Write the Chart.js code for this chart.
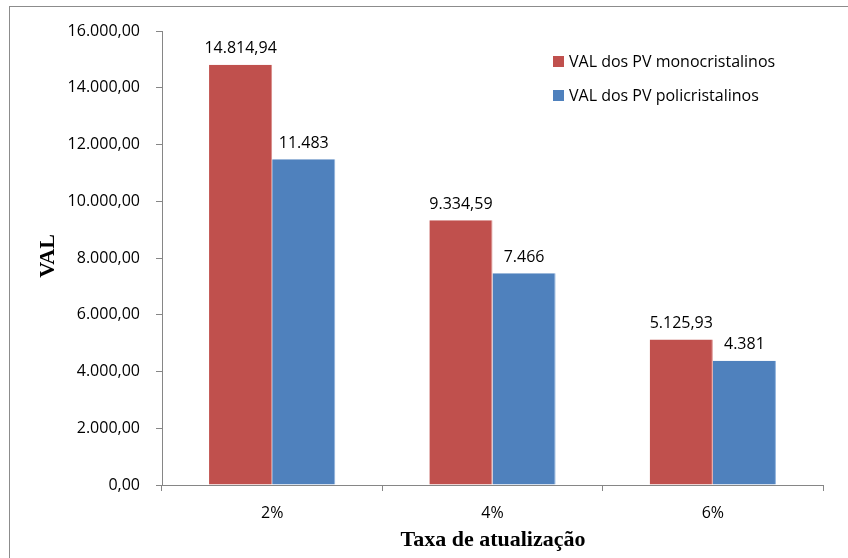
<!DOCTYPE html>
<html>
<head>
<meta charset="utf-8">
<script src="https://cdn.jsdelivr.net/npm/chart.js@4"></script>
<style>
  html, body { margin: 0; padding: 0; background: #fff; }
  #wrap { position: relative; width: 848px; height: 558px; }
  #frame { position: absolute; left: 9px; top: 6px; width: 860px; height: 580px; border: 1px solid #8c8c8c; box-sizing: border-box; }
  canvas { position: absolute; left: 0; top: 0; }
</style>
</head>
<body>
<div id="wrap">
  <div id="frame"></div>
  <canvas id="chart" width="848" height="558"></canvas>
</div>
<script>
// data
const categories = ['2%', '4%', '6%'];
const monoValues = [14814.94, 9334.59, 5125.93];
const polyValues = [11483, 7466, 4381];
const seriesNames = ['VAL dos PV monocristalinos', 'VAL dos PV policristalinos'];
const seriesDecimals = [2, 0];

const labelFont = '16px "Open Sans"';
const axisColor = '#868686';

// number format like 14.814,94
function fmt(v, dec) {
  const parts = v.toFixed(dec).split('.');
  const intPart = parts[0].replace(/\B(?=(\d{3})+(?!\d))/g, '.');
  return parts.length > 1 ? intPart + ',' + parts[1] : intPart;
}

// labels over the bars, legend and axis titles
const extras = {
  id: 'extras',
  afterDatasetsDraw(chart) {
    const ctx = chart.ctx;
    ctx.save();
    ctx.font = labelFont;
    ctx.fillStyle = '#000';
    ctx.textAlign = 'center';
    ctx.textBaseline = 'bottom';
    chart.data.datasets.forEach((ds, i) => {
      chart.getDatasetMeta(i).data.forEach((bar, j) => {
        ctx.fillText(fmt(ds.data[j], seriesDecimals[i]), bar.x, bar.y - 8);
      });
    });

    // legend
    ctx.textAlign = 'left';
    ctx.textBaseline = 'middle';
    chart.data.datasets.forEach((ds, i) => {
      const y = 62 + i * 34;
      ctx.fillStyle = ds.backgroundColor;
      ctx.fillRect(553, y - 6, 11, 11);
      ctx.fillStyle = '#000';
      ctx.fillText(ds.label, 569, y);
    });

    // axis titles
    ctx.font = 'bold 22px "Liberation Serif"';
    ctx.textAlign = 'center';
    ctx.fillText('Taxa de atualização', 493, 540);
    ctx.translate(48, 256);
    ctx.rotate(-Math.PI / 2);
    ctx.fillText('VAL', 0, 0);
    ctx.restore();
  }
};

new Chart(document.getElementById('chart'), {
  type: 'bar',
  data: {
    labels: categories,
    datasets: [
      { label: seriesNames[0], data: monoValues, backgroundColor: '#C0504D', borderColor: '#d98a88', borderWidth: { right: 1 } },
      { label: seriesNames[1], data: polyValues, backgroundColor: '#4F81BD', borderColor: '#8fb2dc', borderWidth: { right: 1 } }
    ]
  },
  options: {
    responsive: false,
    animation: false,
    layout: { padding: { top: 31, right: 25, left: 0, bottom: 0 } },
    datasets: { bar: { categoryPercentage: 0.573, barPercentage: 1 } },
    plugins: { legend: { display: false }, tooltip: { enabled: false } },
    scales: {
      x: {
        grid: { offset: true, drawOnChartArea: false, color: axisColor, tickLength: 6 },
        border: { color: axisColor },
        ticks: { color: '#000', font: { family: 'Open Sans', size: 16 }, padding: 13 },
        afterFit(scale) { scale.height = 73; }
      },
      y: {
        min: 0,
        max: 16000,
        grid: { drawOnChartArea: false, color: axisColor, tickLength: 6 },
        border: { color: axisColor },
        ticks: {
          stepSize: 2000,
          color: '#000',
          font: { family: 'Open Sans', size: 16 },
          padding: 16,
          callback: v => fmt(v, 2)
        },
        afterFit(scale) { scale.width = 162; }
      }
    }
  },
  plugins: [extras]
});
</script>
</body>
</html>
